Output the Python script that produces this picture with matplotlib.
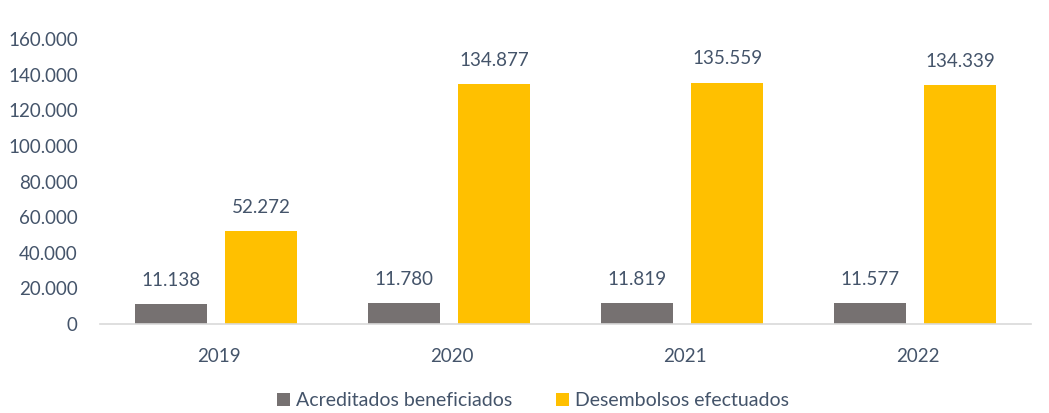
import numpy as np
import matplotlib.pyplot as plt

years = ["2019", "2020", "2021", "2022"]
acreditados = [11138, 11780, 11819, 11577]
desembolsos = [52272, 134877, 135559, 134339]
series_names = ["Acreditados beneficiados", "Desembolsos efectuados"]

text_color = "#44546A"
plt.rcParams["font.family"] = ["Lato", "DejaVu Sans"]


def fmt(v):
    return f"{v:,.0f}".replace(",", ".")


fig = plt.figure(figsize=(10.49, 4.13), dpi=100)
ax = fig.add_axes([0.0953, 0.2155, 0.888, 0.690])

x = np.arange(len(years))
off, w = 0.193, 0.309
b1 = ax.bar(x - off, acreditados, w, color="#767171", label=series_names[0])
b2 = ax.bar(x + off, desembolsos, w, color="#FFC000", label=series_names[1])

for bars, vals in ((b1, acreditados), (b2, desembolsos)):
    for r, v in zip(bars, vals):
        ax.annotate(fmt(v), (r.get_x() + r.get_width() / 2, v),
                    xytext=(0, 17), textcoords="offset points",
                    ha="center", va="center", fontsize=13.5, color=text_color)

ax.set_xlim(-0.5, 3.5)
ax.set_ylim(0, 160000)
ax.set_xticks(x + 0.01)
ax.set_xticklabels(years)
yt = np.arange(0, 160001, 20000)
ax.set_yticks(yt)
ax.set_yticklabels([fmt(v) for v in yt])
ax.tick_params(length=0, labelsize=13.5, labelcolor=text_color)
ax.tick_params(axis="x", pad=17)
ax.tick_params(axis="y", pad=16)
for s in ("top", "right", "left"):
    ax.spines[s].set_visible(False)
ax.spines["bottom"].set_color("#D9D9D9")
ax.spines["bottom"].set_linewidth(1.2)

fig.legend(loc="center", bbox_to_anchor=(533 / 1049, 1 - 401 / 413), ncol=2,
           frameon=False, fontsize=14, labelcolor=text_color,
           handlelength=0.65, handleheight=0.65, handletextpad=0.3,
           columnspacing=2.3)

fig.savefig("out.png", dpi=100)
